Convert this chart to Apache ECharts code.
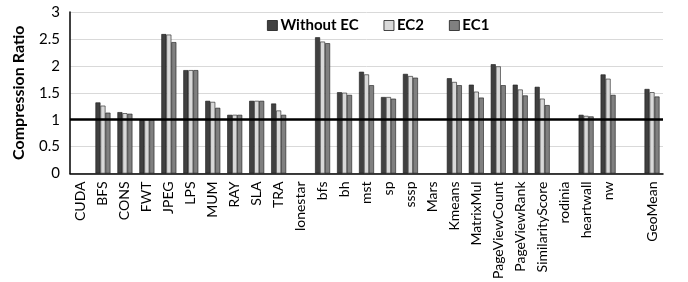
<!DOCTYPE html>
<html>
<head>
<meta charset="utf-8">
<script src="https://cdn.jsdelivr.net/npm/echarts@6/dist/echarts.min.js"></script>
<style>
  html, body { margin: 0; padding: 0; background: #fff; }
  #main { width: 688px; height: 282px; }
</style>
</head>
<body>
<div id="main"></div>
<script>
// categories (suite headers have no bars)
var categories = ['CUDA', 'BFS', 'CONS', 'FWT', 'JPEG', 'LPS', 'MUM', 'RAY', 'SLA', 'TRA',
  'lonestar', 'bfs', 'bh', 'mst', 'sp', 'sssp', 'Mars', 'Kmeans', 'MatrixMul',
  'PageViewCount', 'PageViewRank', 'SimilarityScore', 'rodinia', 'heartwall', 'nw', '', 'GeoMean'];

var withoutEC = [null, 1.32, 1.14, 1.00, 2.59, 1.92, 1.35, 1.09, 1.35, 1.30,
  null, 2.53, 1.51, 1.89, 1.42, 1.85, null, 1.77, 1.65,
  2.03, 1.65, 1.61, null, 1.09, 1.84, null, 1.57];
var ec2 = [null, 1.26, 1.12, 1.00, 2.58, 1.92, 1.33, 1.09, 1.35, 1.17,
  null, 2.45, 1.50, 1.84, 1.42, 1.81, null, 1.70, 1.52,
  1.99, 1.56, 1.39, null, 1.07, 1.76, null, 1.51];
var ec1 = [null, 1.13, 1.11, 1.00, 2.44, 1.92, 1.22, 1.09, 1.35, 1.09,
  null, 2.42, 1.46, 1.64, 1.39, 1.78, null, 1.64, 1.41,
  1.64, 1.45, 1.27, null, 1.06, 1.46, null, 1.43];

var yTicks = [0, 0.5, 1, 1.5, 2, 2.5, 3];

var font = 'Lato, "Open Sans", sans-serif';
var chart = echarts.init(document.getElementById('main'));

function bar(name, data, color) {
  return {
    name: name,
    type: 'bar',
    data: data,
    barWidth: 5,
    barGap: '0%',
    itemStyle: { color: color, borderColor: '#1a1a1a', borderWidth: 0.6 }
  };
}

var series = [
  bar('Without EC', withoutEC, '#404040'),
  bar('EC2', ec2, '#d9d9d9'),
  bar('EC1', ec1, '#808080')
];
// thick reference line at ratio 1
series[0].markLine = {
  silent: true,
  symbol: 'none',
  label: { show: false },
  lineStyle: { color: '#000', width: 2.5, type: 'solid' },
  data: [{ yAxis: 1 }]
};

chart.setOption({
  animation: false,
  textStyle: { fontFamily: font },
  grid: { left: 70, right: 25, top: 12, bottom: 106 },
  legend: {
    left: 262,
    top: 13,
    itemWidth: 10,
    itemHeight: 10,
    itemGap: 25,
    icon: 'rect',
    itemStyle: { borderColor: '#1a1a1a', borderWidth: 0.8 },
    textStyle: { fontFamily: font, fontWeight: 'bold', fontSize: 15, color: '#000', padding: [0, 0, 0, -2] },
    data: ['Without EC', 'EC2', 'EC1']
  },
  xAxis: {
    type: 'category',
    data: categories,
    axisLine: { lineStyle: { color: '#000', width: 1.5 } },
    axisTick: { show: false },
    axisLabel: { rotate: 90, interval: 0, fontSize: 14, color: '#000', margin: 8, fontFamily: font }
  },
  yAxis: {
    type: 'value',
    min: yTicks[0],
    max: yTicks[yTicks.length - 1],
    interval: 0.5,
    name: 'Compression Ratio',
    nameLocation: 'middle',
    nameGap: 43,
    nameTextStyle: { fontWeight: 'bold', fontSize: 16, color: '#000', fontFamily: font },
    axisLine: { show: true, lineStyle: { color: '#000', width: 1.5 } },
    axisTick: { show: false },
    axisLabel: { fontSize: 15, color: '#000', margin: 10, fontFamily: font },
    splitLine: { lineStyle: { color: '#d9d9d9', width: 1 } }
  },
  series: series
});
</script>
</body>
</html>
